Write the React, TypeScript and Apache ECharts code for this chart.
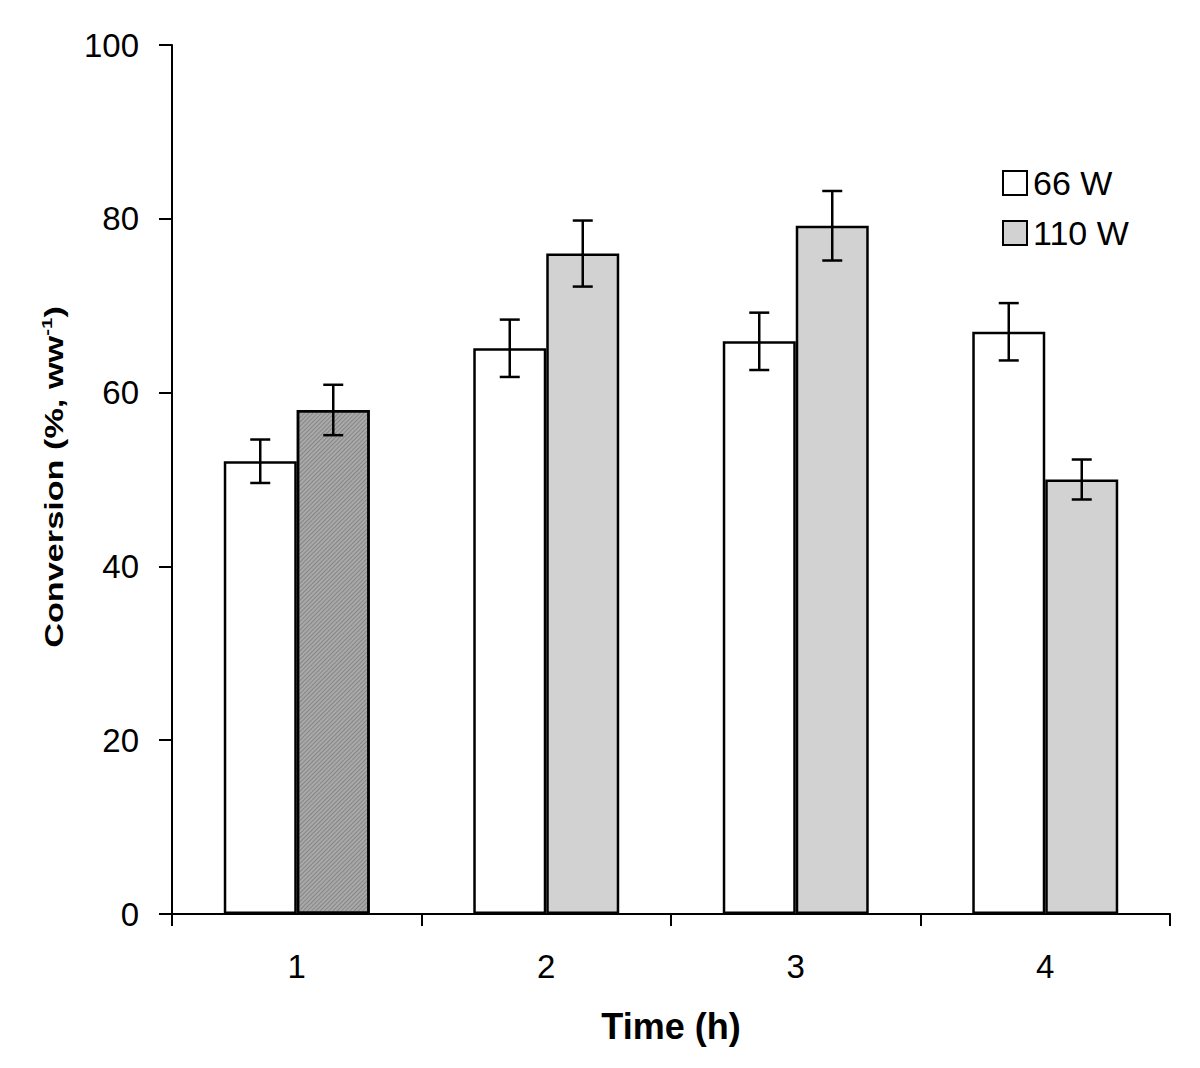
import React, { useEffect, useRef } from "react";
import * as echarts from "echarts";

const categories = ["1", "2", "3", "4"];
const series66 = [52.1, 65.1, 65.9, 67.0];
const series110 = [58.0, 76.0, 79.2, 50.0];
const err66 = [2.5, 3.3, 3.3, 3.3];
const err110 = [2.9, 3.8, 4.0, 2.3];
const yTicks = [0, 20, 40, 60, 80, 100];

const FONT = "Liberation Sans, Arial, sans-serif";
const BAR_FRACTION = 146 / 249.5;

export default function App() {
  const ref = useRef<HTMLDivElement>(null);
  useEffect(() => {
    if (!ref.current) return;
    const chart = echarts.init(ref.current, undefined, { renderer: "svg" });
    const errData: number[][] = [];
    categories.forEach((_, i) => {
      errData.push([i, series66[i] - err66[i], series66[i] + err66[i], 0]);
      errData.push([i, series110[i] - err110[i], series110[i] + err110[i], 1]);
    });
    chart.setOption({
      animation: false,
      backgroundColor: "#ffffff",
      textStyle: { fontFamily: FONT },
      grid: { left: 172, right: 30, top: 45, bottom: 154, containLabel: false },
      graphic: [
        {
          type: "text",
          x: 54,
          y: 477,
          rotation: Math.PI / 2,
          scaleX: 1.37,
          scaleY: 1,
          style: {
            text: "{a|Conversion (%, ww}{s|-1}{a|)}",
            align: "center",
            verticalAlign: "middle",
            rich: {
              a: { fontSize: 25, fontWeight: "bold", fill: "#000", fontFamily: FONT, lineHeight: 30 },
              s: { fontSize: 15, fontWeight: "bold", fill: "#000", fontFamily: FONT, verticalAlign: "top", lineHeight: 30, padding: [0, 0, 12, 0] },
            },
          },
        },
      ],
      legend: {
        orient: "vertical",
        left: 997,
        top: 161,
        itemWidth: 24,
        itemHeight: 24,
        itemGap: 16,
        icon: "rect",
        textStyle: { fontSize: 34, color: "#000", fontFamily: FONT, padding: [0, 0, 0, 1] },
        data: ["66 W", "110 W"],
      },
      xAxis: {
        type: "category",
        data: categories,
        name: "Time (h)",
        nameLocation: "middle",
        nameGap: 94,
        nameTextStyle: { fontSize: 36, fontWeight: "bold", color: "#000", fontFamily: FONT },
        axisLine: { lineStyle: { color: "#000", width: 2 } },
        axisTick: { show: true, length: 12, lineStyle: { color: "#000", width: 2 } },
        axisLabel: { fontSize: 33, color: "#000", margin: 36, fontFamily: FONT },
      },
      yAxis: {
        type: "value",
        min: 0,
        max: 100,
        interval: 20,
        splitLine: { show: false },
        axisLine: { show: true, lineStyle: { color: "#000", width: 2 } },
        axisTick: { show: true, length: 13, lineStyle: { color: "#000", width: 2 } },
        axisLabel: {
          fontSize: 33,
          color: "#000",
          margin: 33,
          fontFamily: FONT,
          formatter: (v: number) => (yTicks.includes(v) ? String(v) : ""),
        },
      },
      series: [
        {
          name: "66 W",
          type: "bar",
          data: series66,
          barGap: "0%",
          barCategoryGap: ((1 - BAR_FRACTION) * 100).toFixed(1) + "%",
          itemStyle: { color: "#ffffff", borderColor: "#000", borderWidth: 2.5 },
        },
        {
          name: "110 W",
          type: "bar",
          data: series110.map((v, i) =>
            i === 0
              ? {
                  value: v,
                  itemStyle: {
                    color: "#a9a9a9",
                    decal: {
                      symbol: "rect",
                      symbolSize: 1,
                      rotation: -Math.PI / 4,
                      dashArrayX: [1, 0],
                      dashArrayY: [1, 2],
                      color: "rgba(90,90,90,0.45)",
                    },
                  },
                }
              : v
          ),
          itemStyle: { color: "#d2d2d2", borderColor: "#000", borderWidth: 2.5 },
        },
        {
          type: "custom",
          name: "err",
          data: errData,
          z: 10,
          silent: true,
          encode: { x: 0, y: [1, 2] },
          renderItem: (params: any, api: any) => {
            const ci = api.value(0);
            const lo = api.coord([ci, api.value(1)]);
            const hi = api.coord([ci, api.value(2)]);
            const band = api.size([1, 0])[0];
            const off = (band * BAR_FRACTION) / 4;
            const x = lo[0] + (api.value(3) === 0 ? -off : off);
            const cap = 10;
            const style = { stroke: "#000", lineWidth: 2.5, fill: "none" };
            return {
              type: "group",
              children: [
                { type: "line", shape: { x1: x, y1: lo[1], x2: x, y2: hi[1] }, style },
                { type: "line", shape: { x1: x - cap, y1: lo[1], x2: x + cap, y2: lo[1] }, style },
                { type: "line", shape: { x1: x - cap, y1: hi[1], x2: x + cap, y2: hi[1] }, style },
              ],
            };
          },
        },
      ],
    });
    return () => chart.dispose();
  }, []);
  return <div ref={ref} style={{ width: 1200, height: 1068, margin: -8 }} />;
}
